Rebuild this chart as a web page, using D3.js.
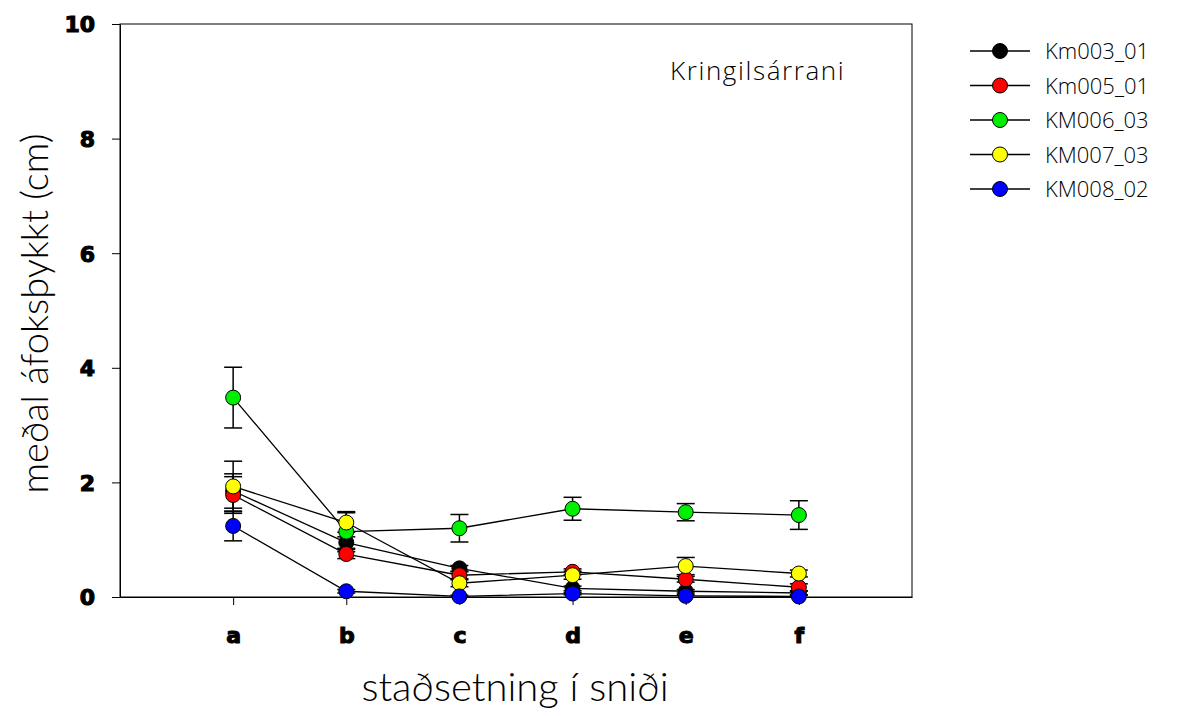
<!DOCTYPE html>
<html>
<head>
<meta charset="utf-8">
<script src="https://cdn.jsdelivr.net/npm/d3@7"></script>
<style>
  html, body { margin: 0; padding: 0; background: #fff; }
  svg { display: block; }
</style>
</head>
<body>
<svg id="chart" width="1186" height="716"></svg>
<script>
// ---- data ----
const categories = ["a", "b", "c", "d", "e", "f"];
const seriesNames = ["Km003_01", "Km005_01", "KM006_03", "KM007_03", "KM008_02"];
const seriesColors = ["#000000", "#ff0000", "#00ee00", "#ffff00", "#0000ff"];
const km003_mean = [1.85, 0.95, 0.50, 0.15, 0.10, 0.07];
const km003_err  = [0.30, 0.10, 0.05, 0.04, 0.03, 0.03];
const km005_mean = [1.78, 0.75, 0.38, 0.44, 0.31, 0.17];
const km005_err  = [0.32, 0.08, 0.06, 0.05, 0.05, 0.06];
const km006_mean = [3.48, 1.14, 1.20, 1.54, 1.48, 1.43];
const km006_err  = [0.53, 0.35, 0.24, 0.20, 0.15, 0.25];
const km007_mean = [1.93, 1.30, 0.24, 0.38, 0.54, 0.41];
const km007_err  = [0.44, 0.17, 0.06, 0.07, 0.15, 0.06];
const km008_mean = [1.24, 0.10, 0.01, 0.06, 0.02, 0.01];
const km008_err  = [0.26, 0.03, 0.02, 0.02, 0.02, 0.02];
const yTicks = [0, 2, 4, 6, 8, 10];
const panelLabel = "Kringilsárrani";
const xTitle = "staðsetning í sniði";
const yTitle = "meðal áfoksþykkt (cm)";

const means = [km003_mean, km005_mean, km006_mean, km007_mean, km008_mean];
const errs = [km003_err, km005_err, km006_err, km007_err, km008_err];
const series = seriesNames.map((n, i) => ({
  name: n, color: seriesColors[i],
  pts: categories.map((c, j) => ({ i: j + 1, v: means[i][j], e: errs[i][j] }))
}));

// ---- layout ----
const svg = d3.select("#chart");
const L = 120, R = 912, T = 24, B = 597;
const x = d3.scaleLinear().domain([0, 7]).range([L, R]);
const y = d3.scaleLinear().domain([0, 10]).range([B, T]);

const tickFont = "'DejaVu Sans', sans-serif";
const titleFont = "'Lato', 'Open Sans', sans-serif";
const textFont = "'Open Sans', 'Lato', sans-serif";

// frame
svg.append("rect").attr("x", L).attr("y", T).attr("width", R - L).attr("height", B - T)
  .attr("fill", "none").attr("stroke", "#000").attr("stroke-width", 1);

// y axis
const yAxis = svg.append("g").attr("transform", `translate(${L},0)`)
  .call(d3.axisLeft(y).tickValues(yTicks).tickSize(8).tickSizeOuter(0).tickPadding(17).tickFormat(d3.format("d")));
yAxis.select(".domain").attr("stroke", "#000");
yAxis.selectAll("text").attr("font-family", tickFont).attr("font-weight", "bold")
  .attr("font-size", 22).attr("fill", "#000").attr("stroke", "#000").attr("stroke-width", 1.1)
  .attr("dy", "0.36em");

// x axis
const xAxis = svg.append("g").attr("transform", `translate(0,${B})`)
  .call(d3.axisBottom(x).tickValues(d3.range(1, categories.length + 1)).tickSize(8).tickSizeOuter(0).tickPadding(22)
    .tickFormat(d => categories[d - 1]));
xAxis.select(".domain").attr("stroke", "#000");
xAxis.selectAll("text").attr("font-family", tickFont).attr("font-weight", "bold")
  .attr("font-size", 22).attr("fill", "#000").attr("stroke", "#000").attr("stroke-width", 1.1);

// titles
svg.append("text").attr("x", x(3.5) - 1).attr("y", 701).attr("text-anchor", "middle")
  .attr("font-family", titleFont).attr("font-weight", 300).attr("font-size", 40).attr("fill", "#000")
  .text(xTitle);
svg.append("text").attr("transform", `translate(48,${(T + B) / 2 + 3}) rotate(-90)`)
  .attr("text-anchor", "middle").attr("font-family", titleFont).attr("font-weight", 300)
  .attr("font-size", 38).attr("fill", "#000").text(yTitle);
svg.append("text").attr("x", 670).attr("y", 80)
  .attr("font-family", textFont).attr("font-weight", 300).attr("font-size", 26)
  .attr("letter-spacing", 1.6).attr("fill", "#000")
  .text(panelLabel);

// lines
const line = d3.line().x(d => x(d.i)).y(d => y(d.v));
svg.append("g").selectAll("path").data(series).join("path")
  .attr("d", s => line(s.pts)).attr("fill", "none").attr("stroke", "#000").attr("stroke-width", 1.3);

// error bars
const eg = svg.append("g").attr("stroke", "#000").attr("stroke-width", 1.5);
series.forEach(s => {
  s.pts.forEach(p => {
    const x0 = x(p.i);
    eg.append("line").attr("x1", x0).attr("x2", x0).attr("y1", y(p.v + p.e)).attr("y2", y(Math.max(0, p.v - p.e)));
    eg.append("line").attr("x1", x0 - 9).attr("x2", x0 + 9).attr("y1", y(p.v + p.e)).attr("y2", y(p.v + p.e));
    if (p.v - p.e > 0)
      eg.append("line").attr("x1", x0 - 9).attr("x2", x0 + 9).attr("y1", y(p.v - p.e)).attr("y2", y(p.v - p.e));
  });
});

// points
series.forEach(s => {
  svg.append("g").selectAll("circle").data(s.pts).join("circle")
    .attr("cx", d => x(d.i)).attr("cy", d => y(d.v)).attr("r", 7.5)
    .attr("fill", s.color).attr("stroke", "#000").attr("stroke-width", 1);
});

// legend
const lg = svg.append("g");
series.forEach((s, i) => {
  const yy = 51 + i * 34.5;
  lg.append("line").attr("x1", 970).attr("x2", 1030).attr("y1", yy).attr("y2", yy)
    .attr("stroke", "#000").attr("stroke-width", 1.3);
  lg.append("circle").attr("cx", 1000).attr("cy", yy).attr("r", 7.5)
    .attr("fill", s.color).attr("stroke", "#000").attr("stroke-width", 1);
  lg.append("text").attr("x", 1045).attr("y", yy + 8).attr("font-family", textFont)
    .attr("font-weight", 300).attr("font-size", 22).attr("fill", "#000").text(s.name);
});
</script>
</body>
</html>
